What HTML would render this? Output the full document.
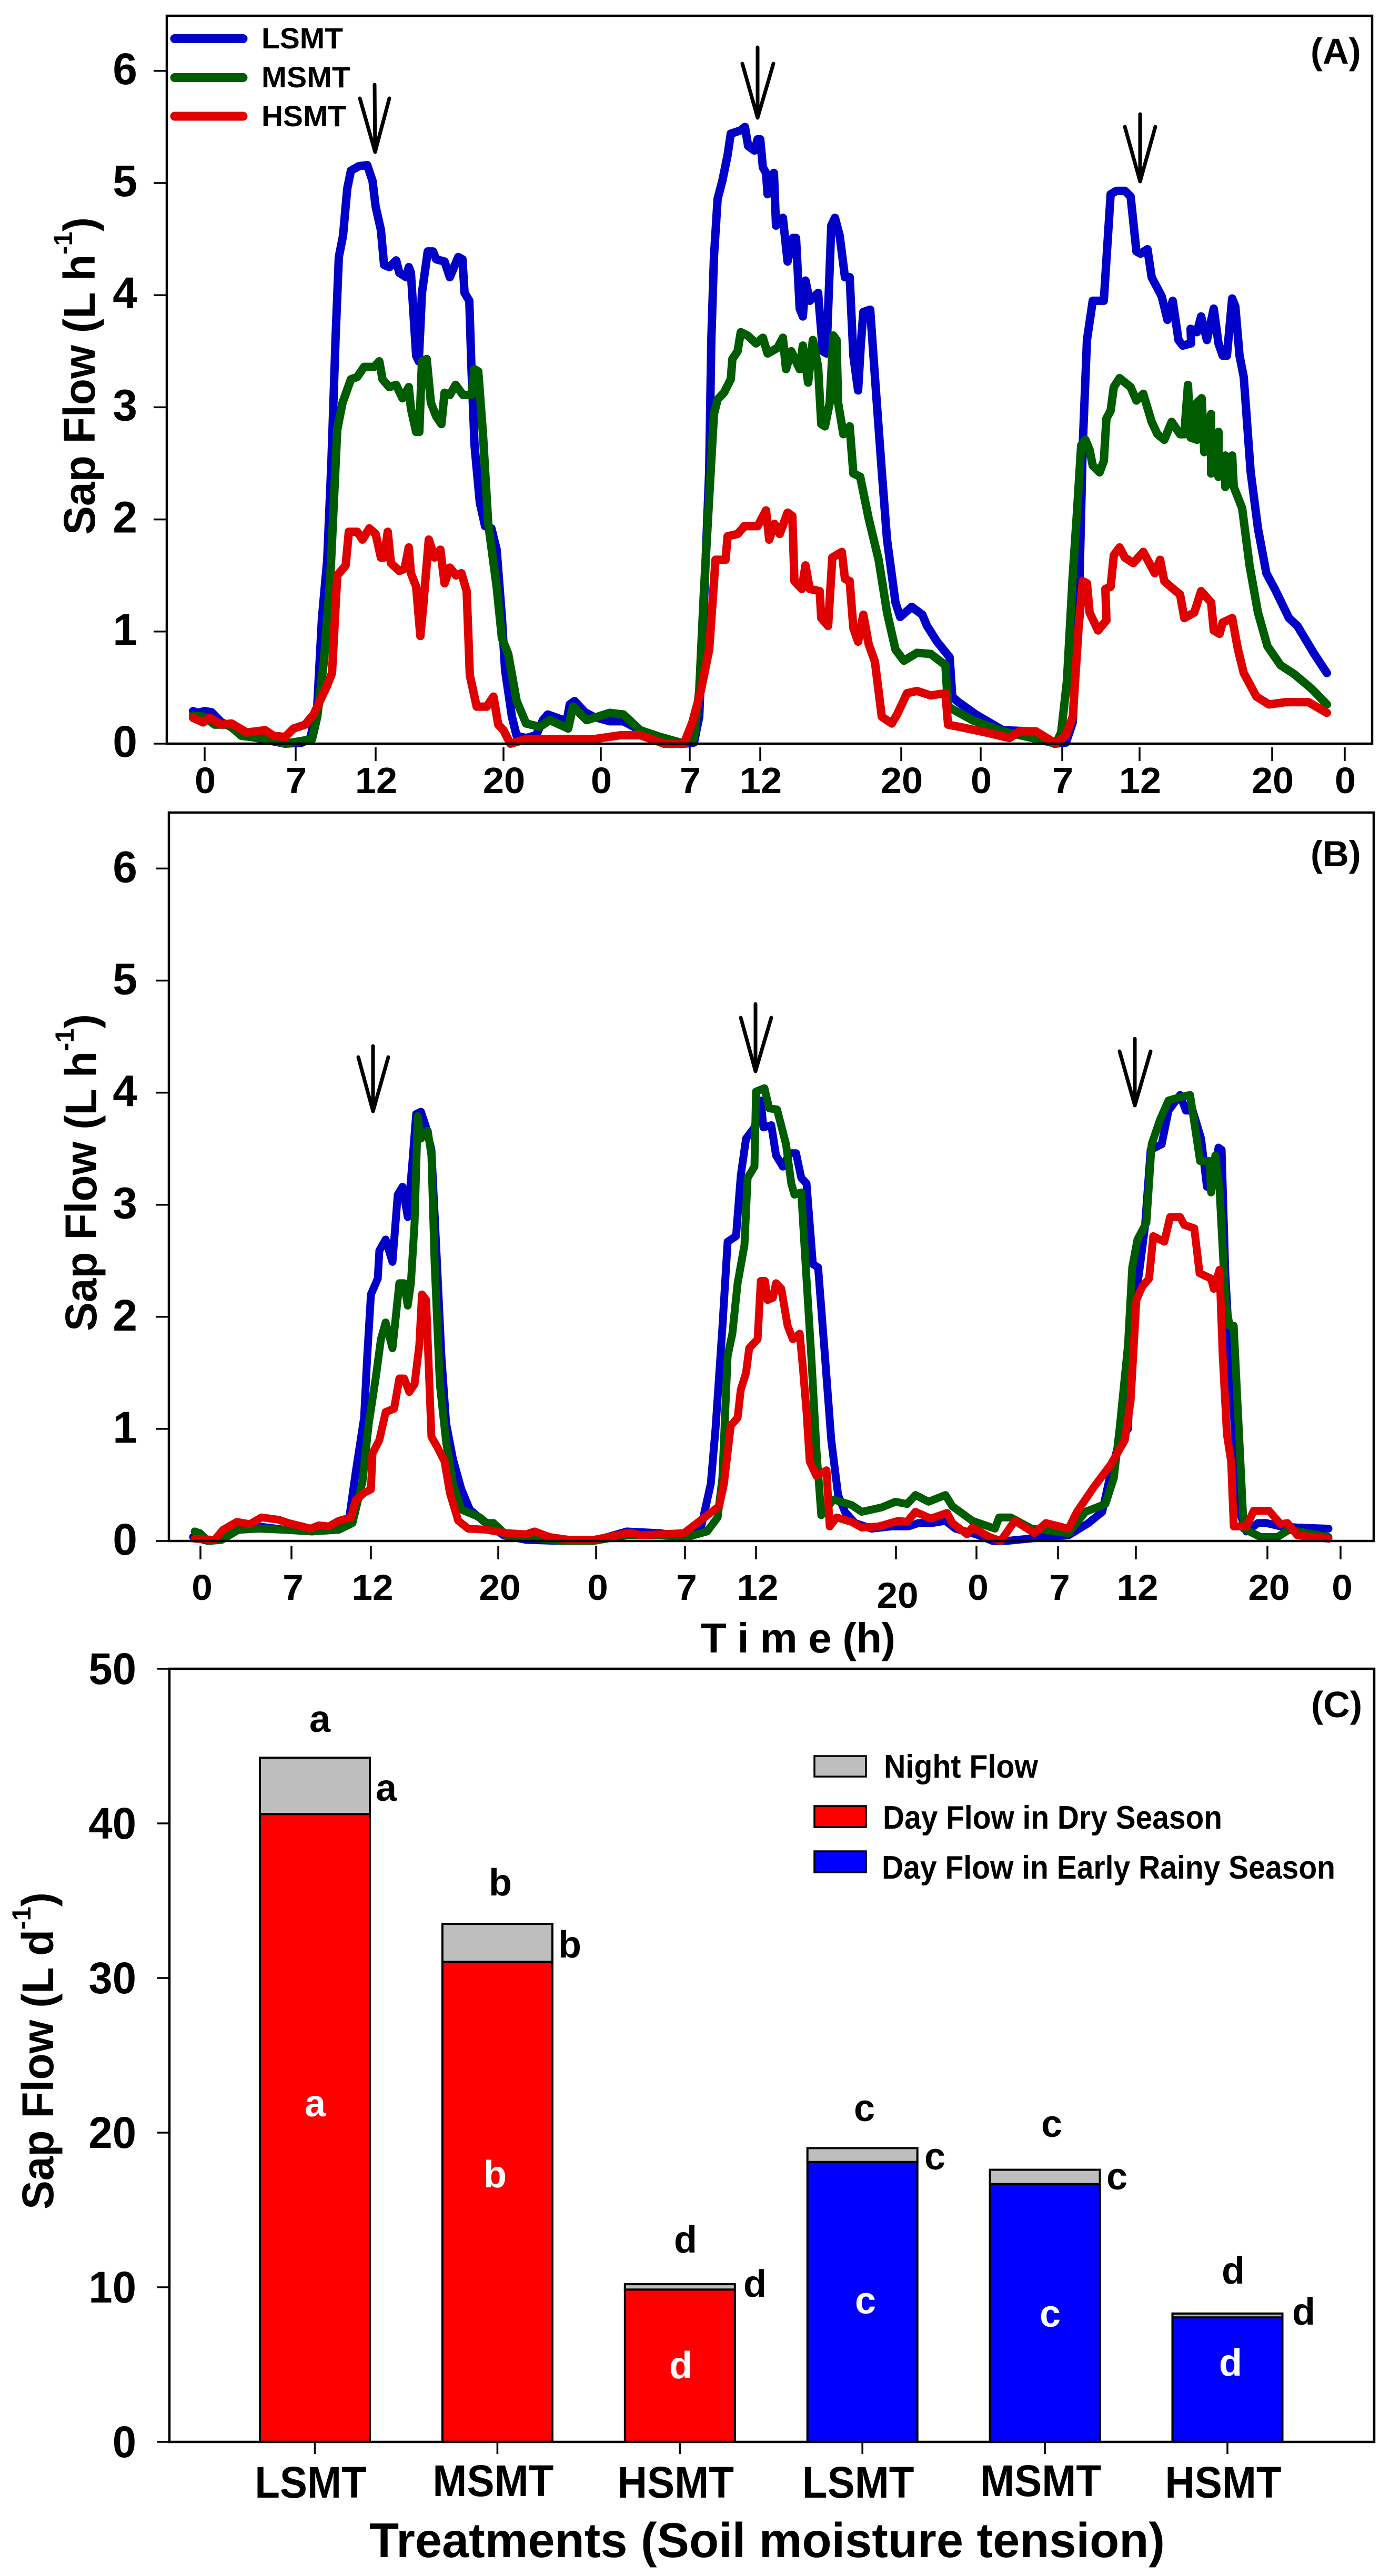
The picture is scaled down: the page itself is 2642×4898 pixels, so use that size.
<!DOCTYPE html>
<html lang="en">
<head>
<meta charset="utf-8">
<title>Sap flow chart</title>
<style>
html,body{margin:0;padding:0;background:#fff;width:2642px;height:4898px;overflow:hidden}
svg{display:block}
text{font-family:"Liberation Sans",Arial,sans-serif;font-weight:700;fill:#000}
.frame{fill:none;stroke:#000;stroke-width:4.5}
.arrow{fill:none;stroke:#000;stroke-width:7;stroke-linecap:round;stroke-linejoin:round}
</style>
</head>
<body>
<svg id="chart" xmlns="http://www.w3.org/2000/svg" width="2642" height="4898" viewBox="0 0 2642 4898">
<rect width="2642" height="4898" fill="#fff"/>

<g id="panelA">
  <g id="linesA"></g>
  <rect class="frame" x="317" y="30" width="2291" height="1384"/>
  <text x="2491" y="121" font-size="69">(A)</text>
  <text transform="translate(180,1017) rotate(-90)" font-size="84" textLength="604" lengthAdjust="spacingAndGlyphs">Sap Flow (L h<tspan font-size="50" dy="-43">-1</tspan><tspan dy="43">)</tspan></text>
  <g>
    <line x1="332" x2="462" y1="73.5" y2="73.5" stroke="#0000c8" stroke-width="17" stroke-linecap="round"/>
    <line x1="332" x2="462" y1="147.5" y2="147.5" stroke="#005c00" stroke-width="17" stroke-linecap="round"/>
    <line x1="332" x2="462" y1="221" y2="221" stroke="#e00000" stroke-width="17" stroke-linecap="round"/>
    <text x="497" y="92" font-size="56" textLength="155" lengthAdjust="spacingAndGlyphs">LSMT</text>
    <text x="497" y="166" font-size="56" textLength="169" lengthAdjust="spacingAndGlyphs">MSMT</text>
    <text x="497" y="240" font-size="56" textLength="161" lengthAdjust="spacingAndGlyphs">HSMT</text>
  </g>
  <path class="arrow" d="M712 161L713 289M684 187L713 289L740 187"/>
  <path class="arrow" d="M1440 90L1440 224M1411 121L1440 224L1470 121"/>
  <path class="arrow" d="M2167 217L2167 345M2138 241L2167 345L2196 241"/>
</g>

<g id="panelB">
  <g id="linesB"></g>
  <rect class="frame" x="321" y="1545" width="2290" height="1385"/>
  <text x="2491" y="1647" font-size="69">(B)</text>
  <text transform="translate(183,2531) rotate(-90)" font-size="84" textLength="603" lengthAdjust="spacingAndGlyphs">Sap Flow (L h<tspan font-size="50" dy="-43">-1</tspan><tspan dy="43">)</tspan></text>
  <text x="1332" y="3142" font-size="80" textLength="370" lengthAdjust="spacing">T i m e (h)</text>
  <path class="arrow" d="M709 1989L709 2113M681 2010L709 2113L738 2010"/>
  <path class="arrow" d="M1436 1909L1436 2037M1408 1935L1436 2037L1466 1935"/>
  <path class="arrow" d="M2157 1975L2157 2102M2128 1999L2157 2102L2187 1999"/>
</g>

<g id="panelC">
  <g id="barsC"></g>
  <rect class="frame" x="322" y="3173" width="2290" height="1470"/>
  <text x="2492" y="3265" font-size="70">(C)</text>
  <text transform="translate(101,4201) rotate(-90)" font-size="84" textLength="603" lengthAdjust="spacingAndGlyphs">Sap Flow (L d<tspan font-size="50" dy="-43">-1</tspan><tspan dy="43">)</tspan></text>
  <text x="702" y="4862" font-size="93" textLength="1512" lengthAdjust="spacingAndGlyphs">Treatments (Soil moisture tension)</text>
  <g>
    <rect x="1548" y="3339" width="98" height="39" fill="#bebebe" stroke="#000" stroke-width="3.5"/>
    <rect x="1548" y="3434" width="98" height="40" fill="#ff0000" stroke="#000" stroke-width="3.5"/>
    <rect x="1548" y="3520" width="98" height="40" fill="#0000ff" stroke="#000" stroke-width="3.5"/>
    <text x="1680" y="3380" font-size="62" textLength="293" lengthAdjust="spacingAndGlyphs">Night Flow</text>
    <text x="1678" y="3477" font-size="62" textLength="645" lengthAdjust="spacingAndGlyphs">Day Flow in Dry Season</text>
    <text x="1676" y="3572" font-size="62" textLength="862" lengthAdjust="spacingAndGlyphs">Day Flow in Early Rainy Season</text>
  </g>
  <g font-size="72" text-anchor="middle">
    <text x="608" y="3293">a</text>
    <text x="734" y="3424">a</text>
    <text x="599" y="4024" style="fill:#fff">a</text>
    <text x="951" y="3604">b</text>
    <text x="1083" y="3722">b</text>
    <text x="941" y="4159" style="fill:#fff">b</text>
    <text x="1303" y="4283">d</text>
    <text x="1435" y="4367">d</text>
    <text x="1294" y="4522" style="fill:#fff">d</text>
    <text x="1643" y="4033">c</text>
    <text x="1777" y="4125">c</text>
    <text x="1645" y="4399" style="fill:#fff">c</text>
    <text x="1999" y="4063">c</text>
    <text x="2123" y="4163">c</text>
    <text x="1996" y="4424" style="fill:#fff">c</text>
    <text x="2344" y="4342">d</text>
    <text x="2478" y="4420">d</text>
    <text x="2339" y="4517" style="fill:#fff">d</text>
  </g>
</g>
</svg>

<script>
// ---- Shared tick labels ----
const timeTickLabels = ['0','7','12','20','0','7','12','20','0','7','12','20','0'];
const flowTickValues = [0,1,2,3,4,5,6];
const barTickValues = [0,10,20,30,40,50];

// ---- Panel A: tick times in logger records ----
const aTickRecords = [0,17.3,32.5,56.8,75.3,92.2,105.6,132.4,147.5,163,177.7,202.9,216.7];

// Panel A, LSMT
const aLsmtTime = [-2.2,-1.3,0,1.3,3.2,5.7,8.9,12.1,15.3,18.5,20.1,21.4,22.3,23.3,24.1,24.9,25.5,26.3,27.1,27.8,29.3,30.9,31.9,32.5,33.5,34.1,35.1,36.4,37,38.3,38.8,39.2,40.2,40.7,41.3,42.4,43.4,44,45.6,46.6,48.2,49,49.4,50.3,50.7,51.3,52.3,53.3,54.5,55.5,56.5,57.1,58.4,59.3,61.1,63,64.3,65.2,68.8,69.4,70.3,72.3,73.9,77,79.6,82.8,86.6,91.1,93,94,94.9,95.9,96.3,96.8,97.5,98.4,99.4,100,101.9,102.7,103.3,104.5,105.1,105.6,106.1,106.7,107,108.2,108.6,109.9,110.8,111.8,112.4,113.1,113.7,114.2,115,116.6,117.5,118.2,119.1,119.8,120.7,121.7,122.6,123.3,124.2,124.7,125.2,126.5,127.4,128.7,129.7,131.3,132.2,134.4,136.4,137.3,139.2,141.6,142.1,143,146.6,151.7,156.8,161.5,163.7,165,166.3,166.9,167.7,168.8,170.9,172.2,173.3,174.9,176,177.1,177.9,179.2,180,181.9,183,184,185.1,185.9,187.5,187.4,188.6,189.4,190.5,191.8,192.7,193.5,194.3,195.3,195.9,196.7,197.5,198.8,200.2,201.8,203.4,206.1,207.7,210.9,213.3];
const aLsmtFlow = [0.29,0.275,0.29,0.28,0.19,0.135,0.06,0.03,0,0.01,0.05,0.33,1.12,1.64,2.52,3.64,4.34,4.53,4.95,5.11,5.15,5.16,5.02,4.79,4.58,4.27,4.25,4.31,4.2,4.16,4.25,4.2,3.46,3.41,4.02,4.39,4.39,4.32,4.3,4.16,4.34,4.32,4.02,3.95,3.36,2.66,2.15,1.94,1.92,1.73,1.12,0.66,0.24,0.07,0.05,0.075,0.21,0.26,0.2,0.35,0.38,0.28,0.24,0.2,0.2,0.12,0.05,0,0.01,0.24,1.26,2.43,3.6,4.34,4.86,5.02,5.25,5.44,5.47,5.5,5.33,5.29,5.39,5.39,5.14,5.09,4.9,5.09,4.62,4.69,4.3,4.51,4.51,3.88,3.81,4.13,3.95,4.02,3.5,3.48,4.62,4.69,4.53,4.16,4.16,3.46,3.15,3.55,3.85,3.87,3.27,2.43,1.82,1.26,1.13,1.22,1.15,1.05,0.91,0.77,0.42,0.38,0.26,0.12,0.11,0,0.01,0.19,1.5,2.66,3.6,3.95,3.95,4.9,4.93,4.93,4.88,4.39,4.37,4.41,4.16,3.99,3.78,3.95,3.6,3.55,3.57,3.7,3.67,3.81,3.6,3.88,3.57,3.46,3.46,3.97,3.9,3.46,3.27,2.43,1.92,1.52,1.38,1.12,1.05,0.8,0.63];

// Panel A, MSMT
const aMsmtTime = [-2.2,0,1.9,4.5,7,12.1,15.3,20.4,21.4,22.7,23.9,24.6,25.2,26.2,27.8,29,30.3,32.2,33.2,33.8,35.1,36.4,37.6,38.8,39.2,40.2,40.8,41.3,42.2,43,44,45,45.6,46.6,47.7,49.1,50.7,51.3,52,52.9,53.9,55.5,56.5,57.7,59.3,61.1,63.7,65.6,69.1,70,72.6,77,79.6,82.8,86.6,91.1,93,94,94.9,95.9,96.8,97.5,98.7,100,100.3,101.3,101.9,103.2,104.8,106.1,107,108.9,109.9,110.5,111.5,113.1,113.7,114.7,115.6,116.6,117.2,117.9,118.8,119.5,120.1,120.4,121.4,122.6,123.3,124.6,126.2,128.1,129.7,131.3,132.9,135.4,138,140.8,141.3,145.9,151.7,158.3,161.8,162.8,163.9,165,165.8,166.6,167.4,168.2,168.8,170.1,170.9,171.4,172.2,172.8,173.9,176,177.1,178.4,180,181.1,182.4,183.8,185.4,186.2,186.9,187.4,188.6,188.6,189.5,190,191.3,191.3,192.7,192.7,194,194,195.3,195.6,197.2,198.6,200.2,202,204.5,207.1,210.4,213.3];
const aMsmtFlow = [0.25,0.24,0.17,0.17,0.07,0.04,0,0.04,0.24,0.75,1.5,2.2,2.8,3.04,3.25,3.27,3.36,3.36,3.41,3.25,3.18,3.2,3.08,3.18,2.99,2.78,2.78,3.41,3.43,3.04,2.92,2.85,3.13,3.11,3.2,3.11,3.11,3.34,3.32,2.76,1.96,1.4,0.94,0.8,0.38,0.18,0.15,0.21,0.135,0.33,0.21,0.275,0.26,0.12,0.06,0,0.05,0.47,1.36,2.2,2.94,3.07,3.13,3.25,3.43,3.5,3.67,3.64,3.57,3.62,3.48,3.53,3.62,3.34,3.5,3.34,3.55,3.22,3.6,3.36,2.85,2.83,3.04,3.64,3.6,3.04,2.76,2.83,2.41,2.38,2.01,1.64,1.17,0.84,0.74,0.81,0.8,0.7,0.33,0.21,0.11,0.04,0,0.1,0.56,1.5,2.06,2.66,2.71,2.62,2.48,2.42,2.52,2.9,2.97,3.18,3.26,3.18,3.06,3.12,2.87,2.76,2.71,2.87,2.76,2.76,3.2,2.73,2.71,3.04,3.08,2.6,2.94,2.41,2.78,2.38,2.57,2.29,2.57,2.29,2.1,1.59,1.17,0.87,0.7,0.62,0.49,0.35];

// Panel A, HSMT
const aHsmtTime = [-2.2,-0.3,1,3.2,5.1,8,11.5,13.1,15.3,16.9,19.1,20.7,23.3,24.2,25.2,26.8,27.4,29,30,31.3,32.5,33.5,34.1,34.8,35.4,37,38,38.8,39.2,40.2,41,41.6,42.6,43.7,44.8,45.6,46.6,47.8,48.8,49.8,50.4,51.7,53.6,54.9,55.8,56.8,58.1,61.1,67.5,73.9,79,82.8,87.3,91.1,92.7,94.3,95.9,97.1,99,99.4,101.3,102.6,105.1,106.7,107.3,108.3,109.3,110.8,111.7,112.1,113.5,114.2,115,116.9,117.2,118.5,119.3,121.1,121.7,122.6,123.3,124.2,125.2,126.2,127.4,128.7,130.6,131.6,133.5,135.4,138,140.8,141.3,144,148.5,153,154.9,158,161.8,163.7,165,166.1,166.9,167.7,168.2,169.8,171.4,171.2,172.2,172.8,173.9,174.9,176.5,178.4,180.6,181.6,182.4,184.1,185.4,186.2,188.1,189.4,191.3,191.8,192.9,193.5,195.3,196.4,197.5,199.9,202.3,205.5,209.8,213.3];
const aHsmtFlow = [0.23,0.19,0.23,0.17,0.18,0.1,0.12,0.07,0.06,0.135,0.17,0.26,0.52,0.63,1.5,1.59,1.89,1.89,1.82,1.92,1.87,1.66,1.66,1.89,1.61,1.54,1.56,1.75,1.52,1.4,0.96,1.26,1.82,1.66,1.73,1.43,1.57,1.5,1.52,1.36,0.61,0.33,0.33,0.42,0.17,0.12,0,0.04,0.04,0.04,0.075,0.075,0,0,0.19,0.47,0.84,1.64,1.64,1.85,1.87,1.94,1.94,2.08,1.82,1.96,1.87,2.06,2.03,1.45,1.38,1.59,1.38,1.36,1.12,1.05,1.66,1.71,1.47,1.45,1.03,0.91,1.15,0.89,0.73,0.24,0.18,0.26,0.45,0.47,0.43,0.45,0.17,0.145,0.1,0.05,0.11,0.11,0,0.075,0.24,1.03,1.45,1.43,1.17,1.01,1.1,1.38,1.4,1.68,1.75,1.66,1.61,1.71,1.52,1.64,1.45,1.38,1.33,1.12,1.17,1.36,1.26,1.01,0.98,1.08,1.12,0.84,0.63,0.42,0.35,0.37,0.37,0.275];

// ---- Panel B: tick times in logger records ----
const bTickRecords = [0,17.3,32.4,56.6,75.2,92.1,105.6,132.2,147.5,163,177.8,202.8,216.7];

// Panel B, LSMT
const bLsmtTime = [-1.4,1.4,4,7.2,11,16.1,21.2,26.3,28.2,29.5,31.1,31.7,32.4,33.7,34,35.2,36.5,37.5,38.4,39.4,40.3,41,41.9,42.9,43.9,44.8,45.8,46.7,48,49.6,51.2,53.7,57.6,61.9,68.3,74.7,81,87.4,92.5,95.1,97,97.9,99.2,100.2,101.8,102.7,103.7,105.3,106.5,107,108.5,109.4,110.7,112,113.2,114.2,115.2,116.4,117.4,118.7,119.9,121.2,122.5,124.4,127.6,131.4,134.6,136.5,139.1,141.6,143.5,147.4,150.6,153.1,160.7,165,168.8,171.4,172.8,174.7,176.3,177.3,178.4,179.5,180.6,182.7,184,186.2,187.3,188.6,190.2,191.3,192.6,193.5,194.1,194.8,195.6,196.4,197.5,198.8,201,202.6,205.3,208.5,214.4];
const bLsmtFlow = [0.035,0,0.01,0.1,0.13,0.1,0.085,0.11,0.18,0.61,1.1,1.65,2.2,2.34,2.59,2.69,2.49,3.09,3.16,2.89,3.39,3.81,3.83,3.69,3.49,2.64,1.65,1.05,0.73,0.46,0.28,0.18,0.05,0.01,0,0,0.085,0.07,0.035,0.11,0.51,1,1.9,2.67,2.72,3.26,3.59,3.69,3.93,3.69,3.71,3.44,3.34,3.46,3.46,3.24,3.19,2.47,2.44,1.65,0.9,0.41,0.26,0.16,0.11,0.13,0.13,0.16,0.16,0.18,0.11,0.06,0,0,0.035,0.05,0.16,0.26,0.56,0.9,1,2.05,2.39,2.79,3.49,3.54,3.84,3.98,3.84,3.84,3.59,3.16,3.19,3.51,3.49,2.39,1.72,1.15,0.26,0.085,0.16,0.16,0.13,0.12,0.11];

// Panel B, MSMT
const bMsmtTime = [-1.1,-0.1,1.4,4,7.2,11,16.1,21.2,26.3,28.9,30.8,32,33.3,34.3,35.2,36.5,37.8,38.7,39.4,40,40.7,41.3,41.9,43.2,43.9,44.5,45.5,46.7,48,49.6,53.1,54.4,55.7,58.2,61.9,68.3,74.7,81,87.4,92.5,96.3,98.3,99.2,100.2,101.1,102.1,103.4,104,105.3,105.6,107.2,108.1,109.6,111.3,112.3,112.9,114.2,114.8,116.1,117.1,118,120.3,123.8,125.7,129.5,132.1,134.3,135.9,138.4,141.6,142.9,146.7,151,151.8,154,158,165,168.2,172,173.6,174.7,176.3,177.1,178.1,179.8,180.8,182.4,184,186.2,188.1,189.2,190,191.8,192.1,192.9,193.7,194.8,195.6,196.4,197.2,198.3,201.5,204.7,206.9,214.4];
const bMsmtFlow = [0.085,0.07,0,0.01,0.1,0.11,0.1,0.085,0.1,0.16,0.53,1.05,1.45,1.8,1.95,1.72,2.3,2.3,2.1,2.3,2.84,3.79,3.59,3.66,3.44,2.49,1.4,0.88,0.51,0.28,0.21,0.16,0.16,0.05,0.035,0,0,0.05,0.05,0.035,0.085,0.21,0.56,1.65,1.85,2.3,2.64,3.24,3.34,4.01,4.04,3.86,3.85,3.54,3.19,3.09,3.11,2.64,1.65,0.8,0.23,0.37,0.32,0.26,0.3,0.35,0.33,0.41,0.35,0.41,0.31,0.18,0.11,0.21,0.21,0.11,0.07,0.26,0.33,0.56,1,1.75,2.44,2.69,2.84,3.54,3.76,3.93,3.96,3.98,3.64,3.39,3.39,3.11,3.44,3.14,2.15,1.92,1.92,1.15,0.11,0.035,0.035,0.1,0.035];

// Panel B, HSMT
const bHsmtTime = [-1.1,2.7,4.3,6.9,9.4,11.6,14.8,16.7,19.3,20.9,22.5,24.4,26.3,28.6,29.5,31.1,32.4,32.7,34,35.2,36.8,37.8,38.7,39.7,40.7,41.6,42.1,42.9,43.9,45.1,46.4,47.4,49,50.9,54.4,58.2,61.9,63.5,66.4,70.2,74.7,78.5,81.7,83.6,87.4,91.9,94.4,98.6,99.5,100.8,102.1,102.7,103.7,104.3,105.9,106.5,107.3,107.8,108.8,109.4,110.4,111.6,112.6,113.9,114.5,115.2,115.8,117.1,119,119.6,120.9,123.8,125.7,128.9,132.7,134.3,135.9,138.8,141.9,142.9,145.7,146.7,150,152.1,154.8,158.5,160.7,165,166.6,169.8,173,175.7,176.8,177.9,179,180.3,181.1,183.2,184.3,186.2,187,188.9,189.9,192.1,192.6,193.7,194.3,195.1,195.9,196.4,198.8,200.2,203.1,205.3,206.6,208.5,214.4];
const bHsmtFlow = [0.02,0.01,0.1,0.17,0.15,0.21,0.19,0.16,0.13,0.11,0.14,0.13,0.18,0.21,0.36,0.43,0.46,0.78,0.9,1.15,1.18,1.45,1.45,1.33,1.4,1.75,2.2,2.15,0.93,0.83,0.71,0.43,0.18,0.11,0.1,0.07,0.06,0.085,0.035,0.01,0.01,0.045,0.075,0.05,0.06,0.07,0.16,0.31,0.51,1.03,1.1,1.35,1.5,1.72,1.8,2.32,2.32,2.15,2.17,2.3,2.25,1.92,1.8,1.85,1.55,1.15,0.71,0.58,0.63,0.13,0.21,0.17,0.12,0.13,0.18,0.17,0.26,0.2,0.25,0.16,0.06,0.12,0.035,0,0.18,0.07,0.16,0.11,0.26,0.48,0.68,0.9,1.25,2.15,2.27,2.34,2.72,2.67,2.89,2.89,2.82,2.79,2.39,2.34,2.25,2.42,1.65,0.95,0.71,0.13,0.13,0.27,0.27,0.15,0.16,0.05,0.02];

// ---- Panel C ----
const barCategories = ['LSMT','MSMT','HSMT','LSMT','MSMT','HSMT'];
const barDayFlow = [40.6,31.05,9.85,18.1,16.67,8.05];
const barNightFlow = [3.65,2.45,0.35,0.9,0.93,0.25];
const barSeasons = ['dry','dry','dry','rainy','rainy','rainy'];

const NS = 'http://www.w3.org/2000/svg';
const svg = document.getElementById('chart');

function mk(tag, parent) {
  const el = document.createElementNS(NS, tag);
  (parent || svg).appendChild(el);
  return el;
}

// Axis functions
const axisA = {
  x: t => 389 + t * 10,
  y: v => 1414 - v * 213.2
};
const axisB = {
  x: t => 381 + t * 10,
  y: v => 2930 - v * 213.1
};
const axisCy = v => 4643 - v * 29.4;
const axisCx = i => 598.5 + i * 346.9;
const BAR_W = 209;

function drawLine(parent, axis, times, flows, color, width) {
  const p = mk('path', parent);
  let d = '';
  for (let i = 0; i < times.length; i++) {
    d += (i ? 'L' : 'M') + axis.x(times[i]).toFixed(1) + ' ' + axis.y(flows[i]).toFixed(1);
  }
  p.setAttribute('d', d);
  p.setAttribute('fill', 'none');
  p.setAttribute('stroke', color);
  p.setAttribute('stroke-width', width);
  p.setAttribute('stroke-linejoin', 'round');
  p.setAttribute('stroke-linecap', 'round');
  return p;
}

const BLUE = '#0000c8', GREEN = '#005c00', RED = '#e00000';
const linesA = document.getElementById('linesA');
const linesB = document.getElementById('linesB');

const la1 = drawLine(linesA, axisA, aLsmtTime, aLsmtFlow, BLUE, 16);


const la2 = drawLine(linesA, axisA, aMsmtTime, aMsmtFlow, GREEN, 16);


const la3 = drawLine(linesA, axisA, aHsmtTime, aHsmtFlow, RED, 16);



const lb1 = drawLine(linesB, axisB, bLsmtTime, bLsmtFlow, BLUE, 15);


const lb2 = drawLine(linesB, axisB, bMsmtTime, bMsmtFlow, GREEN, 15);


const lb3 = drawLine(linesB, axisB, bHsmtTime, bHsmtFlow, RED, 15);



function tickLine(x1, y1, x2, y2) {
  const l = mk('line');
  l.setAttribute('x1', x1);
  l.setAttribute('y1', y1);
  l.setAttribute('x2', x2);
  l.setAttribute('y2', y2);
  l.setAttribute('stroke', '#000');
  l.setAttribute('stroke-width', 3.5);
  return l;
}
function tickText(x, y, str, size, sx, anchor) {
  const t = mk('text');
  t.textContent = str;
  t.setAttribute('transform', 'translate(' + x + ',' + y + ') scale(' + sx + ',1)');
  t.setAttribute('font-size', size);
  t.setAttribute('text-anchor', anchor);
  return t;
}

// Panel A axes
flowTickValues.forEach(v => {
  const y = axisA.y(v);
  const tick = tickLine(292, y, 317, y);
  
  
  const lab = tickText(261, y + 25, String(v), 84, 1, 'end');
  
  
});
aTickRecords.forEach((t, i) => {
  const x = axisA.x(t);
  const tick = tickLine(x, 1421, x, 1447);
  
  
  const lab = tickText(x + 1, 1508, timeTickLabels[i], 70, 1.03, 'middle');
  
  
});

// Panel B axes
flowTickValues.forEach(v => {
  const y = axisB.y(v);
  const tick = tickLine(297, y, 321, y);
  
  
  const lab = tickText(261, y + 26, String(v), 84, 1, 'end');
  
  
});
bTickRecords.forEach((t, i) => {
  const x = axisB.x(t);
  const tick = tickLine(x, 2939, x, 2965);
  
  
  const lab = tickText(x + 3, i === 7 ? 3057 : 3042, timeTickLabels[i], 69, 1.03, 'middle');
  
  
});

// Panel C bars
const barsC = document.getElementById('barsC');
barCategories.forEach((cat, i) => {
  const cx = axisCx(i);
  const left = cx - BAR_W / 2;
  const top = barDayFlow[i] + barNightFlow[i];
  const night = mk('rect', barsC);
  night.setAttribute('x', left);
  night.setAttribute('y', axisCy(top));
  night.setAttribute('width', BAR_W);
  night.setAttribute('height', axisCy(barDayFlow[i]) - axisCy(top));
  night.setAttribute('fill', '#bebebe');
  night.setAttribute('stroke', '#000');
  night.setAttribute('stroke-width', 4);
  
  
  const day = mk('rect', barsC);
  day.setAttribute('x', left);
  day.setAttribute('y', axisCy(barDayFlow[i]));
  day.setAttribute('width', BAR_W);
  day.setAttribute('height', axisCy(0) - axisCy(barDayFlow[i]));
  day.setAttribute('fill', barSeasons[i] === 'dry' ? '#ff0000' : '#0000ff');
  day.setAttribute('stroke', '#000');
  day.setAttribute('stroke-width', 4);
  
  

  const tick = tickLine(cx, 4645, cx, 4666);
  
  
  const lab = tickText(cx - 8, (cat === 'MSMT') ? 4746 : 4749, cat, 84, 0.93, 'middle');
  
  
});
barTickValues.forEach(v => {
  const y = axisCy(v);
  const tick = tickLine(299, y, 322, y);
  
  
  const lab = tickText(259, y + 29, String(v), 84, 0.97, 'end');
  
  
});
</script>
</body>
</html>
